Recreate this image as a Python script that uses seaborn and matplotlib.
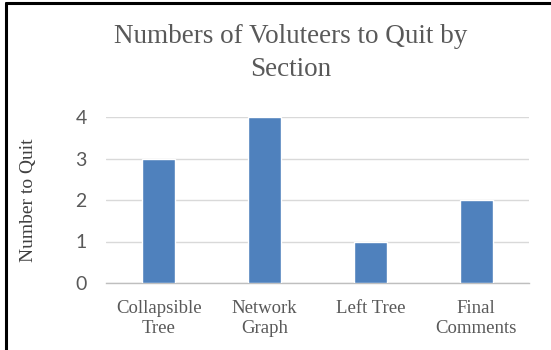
import numpy as np
import pandas as pd
import seaborn as sns
import matplotlib.pyplot as plt
from matplotlib.lines import Line2D

sections = ["Collapsible\nTree", "Network\nGraph", "Left Tree", "Final\nComments"]
quit_counts = [3, 4, 1, 2]
y_ticks = [0, 1, 2, 3, 4]

df = pd.DataFrame({"section": sections, "count": quit_counts})

sns.set_style("white")
plt.rcParams["font.family"] = ["Liberation Serif", "DejaVu Serif"]

fig = plt.figure(figsize=(5.51, 3.5), dpi=100)
ax = fig.add_axes([106 / 551, 1 - 283 / 350, (529 - 106) / 551, (283 - 117) / 350])

sns.barplot(data=df, x="section", y="count", color="#4F81BD", width=0.31,
            saturation=1, ax=ax, zorder=3)

ax.set_ylim(0, 4)
ax.set_xlim(-0.5, len(sections) - 0.5)
ax.set_yticks(y_ticks)
ax.yaxis.grid(True, color="#D9D9D9", linewidth=1, zorder=0)
for s in ["top", "right", "left"]:
    ax.spines[s].set_visible(False)
ax.spines["bottom"].set_color("#BFBFBF")
ax.spines["bottom"].set_linewidth(1)

# Excel-style tick marks between categories
ax.set_xticks(np.arange(-0.5, len(sections)), minor=True)
ax.tick_params(axis="x", which="minor", length=5, color="#BFBFBF", width=1)
ax.tick_params(axis="x", which="major", length=0, pad=12, labelsize=13.5,
               labelcolor="#595959")
for lab in ax.get_xticklabels():
    lab.set_linespacing(1.25)
ax.tick_params(axis="y", length=0, pad=14, labelsize=14, labelcolor="#595959")
for lab in ax.get_yticklabels():
    lab.set_fontfamily("Lato")
ax.set_xlabel("")
ax.set_ylabel("Number to Quit", fontsize=14, color="#404040")
ax.yaxis.set_label_coords(-0.163, 0.5)

fig.text(0.528, 1 - 53 / 350, "Numbers of Voluteers to Quit by\nSection",
         ha="center", va="center", fontsize=19.5, color="#595959",
         linespacing=1.4)

# border lines on the left and top
fig.add_artist(Line2D([5.5 / 551, 5.5 / 551], [0, 1 - 3 / 350], color="black",
                      linewidth=2.2, transform=fig.transFigure))
fig.add_artist(Line2D([5.5 / 551, 1], [1 - 3 / 350, 1 - 3 / 350], color="black",
                      linewidth=2.2, transform=fig.transFigure))

fig.savefig("out.png", dpi=100)
